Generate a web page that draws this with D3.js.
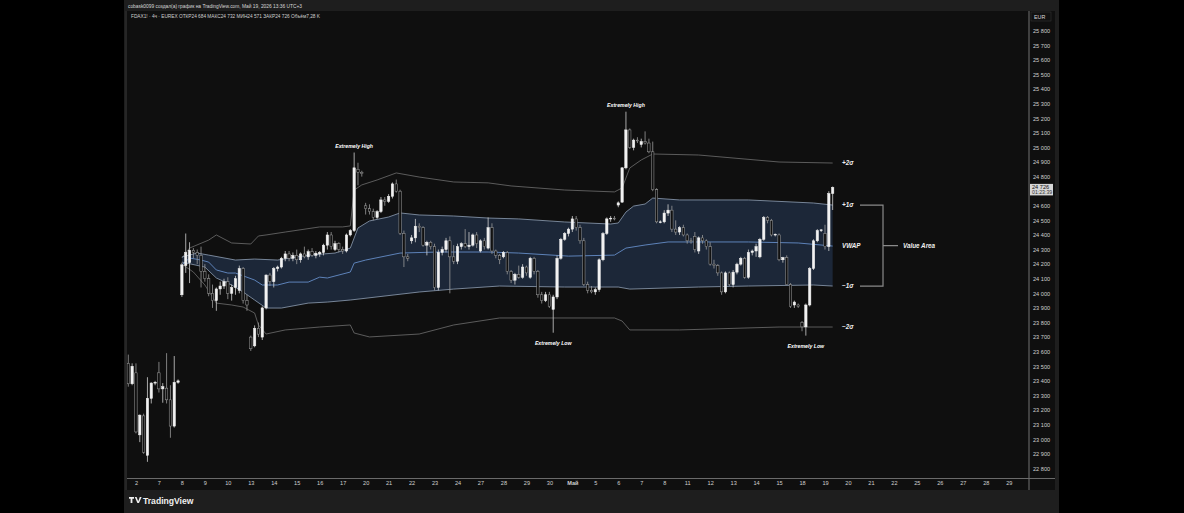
<!DOCTYPE html>
<html><head><meta charset="utf-8">
<script src="https://cdn.jsdelivr.net/npm/d3@7"></script>
<style>
html,body{margin:0;padding:0;background:#000;overflow:hidden;}
svg{display:block;}
text{font-family:"Liberation Sans","DejaVu Sans",sans-serif;}
</style></head><body>
<svg id="c" width="1184" height="513"></svg>
<script>
// ---- DATA ----
// 4h candles [open, high, low, close]; bar 0 = last bars of 1 Apr
const candles = [
[23520,23580,23360,23380],[23380,23520,23370,23500],
[23455,23520,23040,23050],[23030,23170,22980,23165],[23160,23175,22900,22910],[22890,23425,22845,23280],[23280,23390,23245,23385],[23385,23400,23370,23390],
[23455,23530,23320,23345],[23345,23385,23250,23360],[23350,23590,23245,23270],[23270,23370,23010,23090],[23090,23570,23080,23390],[23390,23410,23380,23400],
[23990,24210,23975,24195],[24190,24410,24140,24280],[24210,24350,24070,24295],[24295,24310,24240,24280],[24280,24300,24200,24260],[24260,24320,24040,24150],
[24150,24200,24080,24100],[24100,24130,23980,24000],[24000,24060,23900,23950],[23950,24040,23880,24030],[24030,24080,23990,24050],[24050,24100,24030,24080],
[24080,24110,23960,24000],[24000,24060,23950,24040],[24040,24120,23990,24100],[24020,24190,24000,24170],[24170,24180,23930,23950],[23950,23990,23880,23920],
[23700,23710,23605,23620],[23640,23780,23630,23760],[23760,23800,23700,23720],[23700,23910,23680,23900],[23900,24130,23890,24125],[24125,24140,24050,24080],
[24080,24180,24040,24170],[24170,24190,24150,24180],[24180,24250,24170,24240],[24240,24290,24220,24270],[24270,24290,24220,24240],[24240,24280,24220,24260],
[24260,24300,24200,24230],[24230,24280,24210,24270],[24270,24320,24240,24250],[24250,24300,24230,24285],[24285,24310,24250,24260],[24260,24290,24240,24275],
[24270,24290,24250,24280],[24280,24340,24260,24330],[24330,24420,24300,24400],[24400,24420,24300,24320],[24300,24360,24290,24340],[24340,24350,24280,24300],
[24300,24320,24270,24290],[24290,24410,24280,24400],[24400,24440,24390,24430],[24430,24965,24420,24860],[24850,24895,24740,24830],[24830,24840,24800,24820],
[24600,24620,24540,24580],[24580,24610,24540,24560],[24560,24580,24500,24520],[24520,24570,24510,24560],[24560,24660,24550,24640],[24640,24660,24600,24630],
[24630,24680,24620,24665],[24665,24760,24650,24750],[24750,24780,24690,24700],[24700,24710,24400,24410],[24410,24430,24180,24250],[24250,24270,24220,24240],
[24360,24400,24340,24380],[24380,24510,24350,24460],[24460,24480,24420,24450],[24450,24460,24320,24330],[24330,24360,24260,24350],[24350,24360,24300,24320],
[24320,24340,24020,24040],[24040,24300,24020,24280],[24280,24320,24260,24300],[24300,24380,24280,24360],[24360,24390,24000,24250],[24250,24330,24200,24220],
[24220,24340,24200,24320],[24320,24350,24300,24340],[24340,24440,24310,24320],[24320,24420,24300,24330],[24330,24410,24320,24400],[24400,24420,24310,24340],
[24290,24370,24280,24360],[24360,24380,24300,24320],[24310,24520,24300,24450],[24450,24480,24270,24290],[24290,24300,24240,24260],[24260,24270,24200,24230],
[24250,24290,24240,24280],[24280,24290,24130,24150],[24150,24160,24070,24090],[24090,24140,24060,24130],[24130,24190,24100,24110],[24110,24200,24100,24180],
[24180,24190,24120,24140],[24110,24250,24100,24240],[24240,24250,24130,24150],[24150,24160,23970,23990],[23990,24010,23930,23950],[23950,24010,23940,23990],
[23990,24010,23900,23910],[23890,23990,23730,23975],[23975,24260,23960,24240],[24240,24380,24230,24370],[24370,24420,24360,24410],[24410,24450,24390,24440],
[24440,24530,24420,24510],[24510,24530,24430,24450],[24450,24470,24340,24360],[24360,24380,24050,24060],[24060,24080,24000,24020],[24020,24050,24000,24010],
[24010,24040,23990,24025],[24025,24240,24010,24230],[24230,24420,24220,24410],[24410,24520,24400,24510],[24510,24530,24490,24515],[24515,24530,24500,24510],
[24605,24630,24590,24620],[24625,24865,24620,24860],[24860,25245,24850,25120],[25120,25130,24990,25000],[25000,25060,24980,25050],[25050,25070,25030,25045],
[25020,25060,25000,25040],[25040,25110,25020,25030],[25030,25060,24960,24970],[24970,25040,24700,24710],[24710,24720,24480,24490],[24490,24500,24480,24490],
[24490,24570,24480,24550],[24550,24610,24530,24570],[24570,24600,24420,24440],[24440,24500,24400,24420],[24420,24460,24400,24450],[24450,24470,24390,24400],
[24400,24410,24340,24360],[24360,24380,24340,24355],[24390,24420,24280,24300],[24290,24390,24270,24380],[24380,24400,24340,24360],[24360,24370,24300,24320],
[24320,24350,24190,24200],[24200,24230,24170,24190],[24190,24200,24120,24140],[24140,24150,23990,24010],[24010,24150,24000,24140],[24140,24150,24050,24060],
[24060,24160,24040,24145],[24145,24210,24130,24200],[24200,24250,24190,24240],[24240,24250,24100,24110],[24110,24300,24100,24280],[24280,24300,24260,24290],
[24290,24340,24250,24320],[24250,24380,24240,24370],[24370,24530,24360,24520],[24520,24530,24480,24500],[24500,24510,24390,24400],[24400,24410,24390,24405],
[24400,24410,24220,24230],[24230,24250,24210,24245],[24245,24260,24060,24060],[24060,24070,23900,23910],[23920,23950,23900,23940],[23920,23930,23900,23910],
[23800,23810,23740,23770],[23770,23930,23710,23920],[23920,24180,23910,24170],[24170,24370,24160,24360],[24360,24440,24350,24430],[24430,24440,24420,24435],
[24410,24470,24300,24320],[24320,24700,24290,24684],[24684,24732,24571,24726]
];
// Anchored VWAP and deviation bands, read as [bar index, price]
const vwapPts = [[14,24194],[16,24242],[19,24228],[21,24214],[23,24160],[26,24139],[28,24139],[33,24091],[35,24057],[39,24057],[42,24077],[47,24077],[50,24111],[52,24105],[58,24146],[59,24207],[62,24228],[71,24276],[81,24283],[94,24283],[102,24276],[115,24255],[127,24262],[130,24310],[135,24331],[141,24352],[149,24352],[162,24352],[175,24345],[184,24324]];
const up1Pts = [[14,24249],[18,24276],[21,24262],[28,24228],[33,24235],[39,24228],[47,24262],[54,24276],[58,24310],[59,24379],[60,24448],[63,24496],[68,24523],[71,24551],[76,24537],[85,24530],[94,24516],[102,24510],[114,24489],[126,24475],[128,24482],[130,24557],[132,24598],[135,24612],[137,24653],[144,24640],[162,24640],[179,24619],[184,24605]];
const dn1Pts = [[14,24214],[20,24180],[23,24105],[27,24057],[30,24009],[33,23954],[36,23899],[40,23899],[47,23933],[52,23940],[58,23954],[76,24009],[85,24029],[97,24050],[114,24043],[128,24043],[131,24029],[149,24043],[162,24050],[179,24057],[184,24050]];
const up2Pts = [[14,24242],[16,24310],[21,24365],[23,24400],[27,24345],[32,24338],[34,24393],[36,24400],[41,24420],[50,24455],[56,24455],[58,24462],[59,24708],[61,24743],[65,24777],[70,24825],[76,24797],[85,24763],[94,24757],[100,24736],[114,24708],[127,24695],[129,24722],[131,24859],[134,24914],[137,24955],[149,24948],[170,24900],[184,24893]];
const dn2Pts = [[14,24200],[17,24146],[20,24057],[23,23933],[27,23920],[30,23906],[33,23865],[34,23783],[36,23721],[41,23749],[50,23769],[58,23783],[59,23728],[63,23701],[76,23721],[85,23783],[97,23831],[127,23831],[129,23810],[131,23749],[144,23749],[170,23769],[184,23769]];
// time axis: day labels (first bar of each trading day, 6 bars/day)
const dayLabels = ["2","7","8","9","10","13","14","15","16","17","20","21","22","23","24","27","28","29","30","Май","5","6","7","8","11","12","13","14","15","18","19","20","21","22","25","26","27","28","29"];
const priceTicks = [22800,22900,23000,23100,23200,23300,23400,23500,23600,23700,23800,23900,24000,24100,24200,24300,24400,24500,24600,24700,24800,24900,25000,25100,25200,25300,25400,25500,25600,25700,25800];
const extremes = [
  {bar:59, price:24965, text:"Extremely High", dir:-1},
  {bar:130, price:25245, text:"Extremely High", dir:-1},
  {bar:111, price:23730, text:"Extremely Low", dir:1},
  {bar:177, price:23710, text:"Extremely Low", dir:1}
];
const bandLabels = [
  {text:"+2σ", price:24893},{text:"+1σ", price:24605},{text:"VWAP", price:24324},{text:"−1σ", price:24050},{text:"−2σ", price:23769}
];
const headerText = "cobask0099 создал(а) график на TradingView.com, Май 19, 2026 13:36 UTC+3";
const legendText = "FDAX1! · 4ч · EUREX ОТКР24 684 МАКС24 732 МИН24 571 ЗАКР24 726 Объём7,28 K";
const lastPrice = 24726, countdown = "01:23:39";

// ---- LAYOUT ----
const svg = d3.select("#c");
const frameL = 124, frameR = 1059, plotL = 127, plotR = 1028, plotT = 11, plotB = 478;
const x = d3.scaleLinear().domain([0, 1]).range([128.3, 132.128]);
const y = d3.scaleLinear().domain([22800, 25800]).range([468.4, 30.7]);
const fmt = v => Math.floor(v/1000) + " " + String(v%1000).padStart(3,"0");

svg.append("rect").attr("width",1184).attr("height",513).attr("fill","#000");
svg.append("rect").attr("x",frameL).attr("y",0).attr("width",frameR-frameL).attr("height",513).attr("fill","#1e1e1e");
svg.append("rect").attr("x",plotL).attr("y",plotT).attr("width",1055-plotL).attr("height",plotB+12-plotT).attr("fill","#0f0f0f");

// header
svg.append("text").attr("x",128).attr("y",7.5).attr("font-size",6.2).attr("fill","#d8d8d8")
  .attr("textLength",174).attr("lengthAdjust","spacingAndGlyphs").text(headerText);
svg.append("text").attr("x",131).attr("y",17.5).attr("font-size",5.4).attr("fill","#d0d0d0")
  .attr("textLength",189).attr("lengthAdjust","spacingAndGlyphs").text(legendText);

const clip = svg.append("clipPath").attr("id","pc").append("rect").attr("x",plotL).attr("y",plotT).attr("width",plotR-plotL).attr("height",plotB-plotT);
const g = svg.append("g").attr("clip-path","url(#pc)");

// value area fill
const areaPts = up1Pts.concat(dn1Pts.slice().reverse());
g.append("path").attr("d", d3.line().x(d=>x(d[0])).y(d=>y(d[1]))(areaPts)+"Z").attr("fill","#1c2738");

const line = d3.line().x(d=>x(d[0])).y(d=>y(d[1]));
g.append("path").attr("d",line(up2Pts)).attr("fill","none").attr("stroke","#6e6e6e").attr("stroke-width",0.8);
g.append("path").attr("d",line(dn2Pts)).attr("fill","none").attr("stroke","#6e6e6e").attr("stroke-width",0.8);
g.append("path").attr("d",line(up1Pts)).attr("fill","none").attr("stroke","#8f9fb5").attr("stroke-width",0.8);
g.append("path").attr("d",line(dn1Pts)).attr("fill","none").attr("stroke","#8f9fb5").attr("stroke-width",0.8);
g.append("path").attr("d",line(vwapPts)).attr("fill","none").attr("stroke","#5d82b8").attr("stroke-width",1);

// candles
const bw = 2.4;
const cg = g.append("g");
candles.forEach((c,i)=>{
  const [o,h,l,cl] = c; const up = cl >= o; const cx = x(i);
  cg.append("line").attr("x1",cx).attr("x2",cx).attr("y1",y(h)).attr("y2",y(l)).attr("stroke", up ? "#cfcfcf" : "#9a9a9a").attr("stroke-width",0.8);
  const top = y(Math.max(o,cl)), bot = y(Math.min(o,cl));
  cg.append("rect").attr("x",cx-bw/2).attr("y",top).attr("width",bw).attr("height",Math.max(0.8,bot-top))
    .attr("fill", up ? "#f2f2f2" : "#111").attr("stroke", up ? "#f2f2f2" : "#a0a0a0").attr("stroke-width",0.5);
});

// extremes labels
extremes.forEach(e=>{
  svg.append("text").attr("x",x(e.bar)).attr("y",y(e.price)+(e.dir<0?-5:12)).attr("text-anchor","middle")
    .attr("font-size",5.2).attr("font-style","italic").attr("font-weight","bold").attr("fill","#ffffff").text(e.text);
});

// band labels + bracket
bandLabels.forEach(b=>{
  svg.append("text").attr("x",842).attr("y",y(b.price)+2).attr("font-size",6.3).attr("font-style","italic").attr("font-weight","bold").attr("fill","#f0f0f0").text(b.text);
});
const yU = y(24605), yD = y(24050), yM = (yU+yD)/2;
svg.append("path").attr("d",`M860,${yU}H883V${yD}H860M883,${yM}H898`).attr("fill","none").attr("stroke","#8a8a8a").attr("stroke-width",1.2);
svg.append("text").attr("x",903).attr("y",yM+2).attr("font-size",6.3).attr("font-style","italic").attr("font-weight","bold").attr("fill","#f0f0f0").text("Value Area");

// price axis
svg.append("line").attr("x1",plotR+1).attr("x2",plotR+1).attr("y1",plotT).attr("y2",plotB+12).attr("stroke","#8a8a8a").attr("stroke-width",0.8);
const ya = d3.axisRight(y).tickValues(priceTicks).tickFormat(fmt).tickSize(0).tickPadding(0);
const yg = svg.append("g").attr("transform",`translate(1033,0)`).call(ya);
yg.select(".domain").remove();
yg.selectAll("text").attr("font-size",5.6).attr("fill","#cfcfcf").attr("font-family","Liberation Sans, sans-serif");
svg.append("rect").attr("x",1031).attr("y",12).attr("width",20).attr("height",9).attr("fill","#111").attr("stroke","#333").attr("stroke-width",0.6);
svg.append("text").attr("x",1034).attr("y",18.5).attr("font-size",5.4).attr("fill","#d8d8d8").text("EUR");
// last price label
svg.append("rect").attr("x",1030).attr("y",y(lastPrice)-3.5).attr("width",23).attr("height",11.5).attr("fill","#d6d6d6");
svg.append("text").attr("x",1032).attr("y",y(lastPrice)+1.5).attr("font-size",5.6).attr("fill","#111").text(fmt(lastPrice));
svg.append("text").attr("x",1032).attr("y",y(lastPrice)+6.8).attr("font-size",5.2).attr("fill","#333").text(countdown);

// time axis
svg.append("line").attr("x1",plotL).attr("x2",1055).attr("y1",plotB+0.5).attr("y2",plotB+0.5).attr("stroke","#6a6a6a").attr("stroke-width",1);
const tickBars = dayLabels.map((d,k)=>2+k*6);
const xa = d3.axisBottom(x).tickValues(tickBars).tickFormat((d,k)=>dayLabels[k]).tickSize(0).tickPadding(0);
const xg = svg.append("g").attr("transform",`translate(0,${plotB+3})`).call(xa);
xg.select(".domain").remove();
xg.selectAll("text").attr("font-size",5.6).attr("fill","#cfcfcf").attr("font-weight",(d,k)=>dayLabels[k]==="Май"?"bold":"normal");

// left border of plot
svg.append("line").attr("x1",plotL-1).attr("x2",plotL-1).attr("y1",plotT).attr("y2",plotB+12).attr("stroke","#2a2a2a").attr("stroke-width",1.5);

// footer logo
const lg = svg.append("g").attr("transform","translate(129,497)");
lg.append("path").attr("d","M0,0H5V1.8H3.4V6H1.6V1.8H0Z M5.8,0H7.6L9.2,4.2L10.8,0H12.6L10,6H8.4Z").attr("fill","#f0f0f0");
svg.append("text").attr("x",143).attr("y",503.5).attr("font-size",8.6).attr("font-weight","bold").attr("fill","#f0f0f0").text("TradingView");
</script>
</body></html>
